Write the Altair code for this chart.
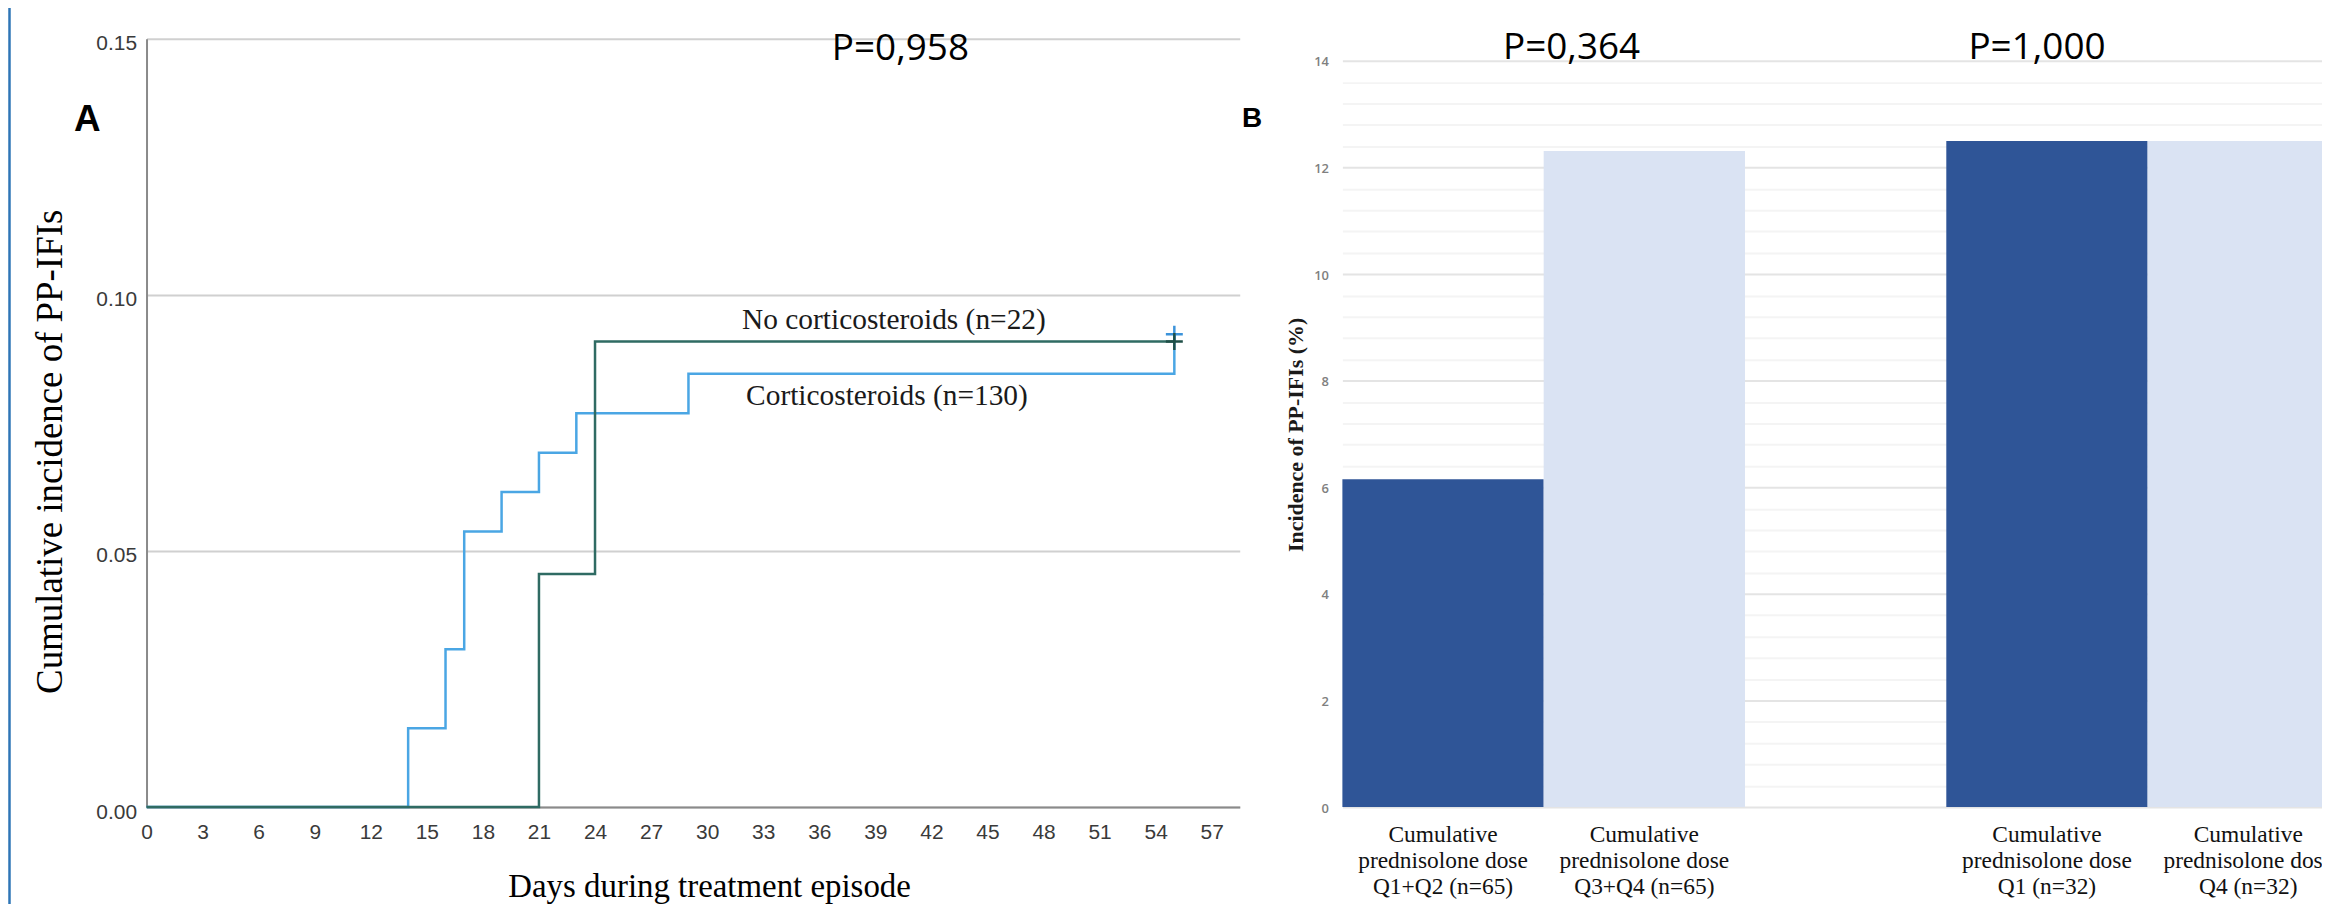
import altair as alt
import pandas as pd

# ---------------- Panel A: cumulative incidence (step curves) ----------------
cs_days = [0, 14, 16, 17, 19, 21, 23, 29, 55]
cs_inc = [0.0, 0.0154, 0.0308, 0.0538, 0.0615, 0.0692, 0.0769, 0.0846, 0.0923]
nocs_days = [0, 21, 24, 55]
nocs_inc = [0.0, 0.0455, 0.0909, 0.0909]
cens_cs_day, cens_cs_inc = [55], [0.0923]
cens_nocs_day, cens_nocs_inc = [55], [0.0909]
x_ticks_a = [0, 3, 6, 9, 12, 15, 18, 21, 24, 27, 30, 33, 36, 39, 42, 45, 48, 51, 54, 57]
y_ticks_a = [0.0, 0.05, 0.10, 0.15]

# ---------------- Panel B: incidence bars ----------------
bar_cats = [
    "Cumulative\nprednisolone dose\nQ1+Q2 (n=65)",
    "Cumulative\nprednisolone dose\nQ3+Q4 (n=65)",
    "Cumulative\nprednisolone dose\nQ1 (n=32)",
    "Cumulative\nprednisolone dose\nQ4 (n=32)",
]
bar_vals = [6.15, 12.31, 12.5, 12.5]
bar_shade = ["low", "high", "low", "high"]
gap_cat = " "
x_domain_b = [bar_cats[0], bar_cats[1], gap_cat, bar_cats[2], bar_cats[3]]
y_ticks_b = [round(0.4 * i, 1) for i in range(36)]
p_texts = ["P=0,958", "P=0,364", "P=1,000"]

BLUE = "#4AA6E4"
GREEN = "#2F6B63"
DARK = "#2F5597"
LIGHT = "#DAE3F3"

W_A, H = 1097, 771
W_B = 1010

xs = alt.Scale(domain=[0, 58.5], nice=False, zero=False)
ys = alt.Scale(domain=[0, 0.15], nice=False)

x_axis_a = alt.Axis(
    values=x_ticks_a, title="Days during treatment episode",
    labelFont="Liberation Sans", labelFontSize=21, labelColor="#3a3a3a",
    labelPadding=14, ticks=False, domain=True, domainColor="#8a8a8a", domainWidth=2,
    grid=False, labelFlush=False,
    titleFont="Liberation Serif", titleFontSize=33, titleFontWeight="normal",
    titleColor="#000000", titleX=564.5, titleY=90, titleAlign="center",
    titleBaseline="alphabetic",
)
y_axis_a = alt.Axis(
    values=y_ticks_a, format=".2f", title="Cumulative incidence of PP-IFIs",
    labelFont="Liberation Sans", labelFontSize=21, labelColor="#3a3a3a",
    labelPadding=10, labelOffset=5, ticks=False, domain=True,
    domainColor="#8a8a8a", domainWidth=2,
    grid=True, gridColor="#d0d0d0", gridWidth=2,
    titleFont="Liberation Serif", titleFontSize=37, titleFontWeight="normal",
    titleColor="#000000", titleX=-96.5, titleY=414, titleAngle=270,
    titleAlign="center", titleBaseline="middle",
)

def enc_a(chart):
    return chart.encode(
        x=alt.X("day:Q", scale=xs, axis=x_axis_a),
        y=alt.Y("inc:Q", scale=ys, axis=y_axis_a),
    )

df_cs = pd.DataFrame({"day": cs_days, "inc": cs_inc})
df_nocs = pd.DataFrame({"day": nocs_days, "inc": nocs_inc})
df_c1 = pd.DataFrame({"day": cens_cs_day, "inc": cens_cs_inc})
df_c2 = pd.DataFrame({"day": cens_nocs_day, "inc": cens_nocs_inc})

line_cs = enc_a(alt.Chart(df_cs).mark_line(interpolate="step-after", color=BLUE, strokeWidth=2.5))
line_nocs = enc_a(alt.Chart(df_nocs).mark_line(interpolate="step-after", color=GREEN, strokeWidth=2.5))
cross = "M-1,0L1,0M0,-1L0,1"
censor_cs = enc_a(alt.Chart(df_c1).mark_point(shape=cross, size=289, filled=False, strokeWidth=2.5, opacity=1, color="#3C93DA"))
censor_nocs = enc_a(alt.Chart(df_c2).mark_point(shape=cross, size=289, filled=False, strokeWidth=2.5, opacity=1, color="#1F4F47"))

def txt(text, x, y, font, size, weight="normal", color="#000000"):
    return alt.Chart(pd.DataFrame({"t": [text]})).mark_text(
        font=font, fontSize=size, fontWeight=weight, color=color,
        align="center", baseline="middle",
    ).encode(x=alt.value(x), y=alt.value(y), text="t:N")

label_nocs = txt("No corticosteroids (n=22)", 750, 282, "Liberation Serif", 29.5, color="#1a1a1a")
label_cs = txt("Corticosteroids (n=130)", 743, 358, "Liberation Serif", 29.5, color="#1a1a1a")
p_a = txt(p_texts[0], 756.5, 10.5, "Open Sans", 37)
letter_a = txt("A", -59.5, 82, "Liberation Sans", 37, weight="bold")
border = alt.Chart(pd.DataFrame({"k": [0]})).mark_rule(color="#2E75B6", strokeWidth=2.5).encode(
    x=alt.value(-137.5), y=alt.value(-40), y2=alt.value(900)
)

panel_a = alt.layer(
    line_cs, line_nocs, censor_cs, censor_nocs, label_nocs, label_cs, p_a, letter_a, border
).properties(width=W_A, height=H)

# ---------------- Panel B ----------------
bxs = alt.Scale(domain=x_domain_b, paddingInner=0, paddingOuter=0)
bys = alt.Scale(domain=[0, 14.417], nice=False)

x_axis_b = alt.Axis(
    title=None, labelExpr="split(datum.label, '\\n')",
    labelFont="Liberation Serif", labelFontSize=23.5, labelColor="#111111",
    labelLineHeight=26, labelPadding=16, labelAngle=0, ticks=False,
    domain=False, labelLimit=0, grid=False,
)
y_axis_b = alt.Axis(
    values=y_ticks_b,
    labelExpr="datum.value % 2 === 0 ? format(datum.value, 'd') : ''",
    labelFont="Open Sans", labelFontSize=13, labelFontWeight=600,
    labelColor="#808080", labelPadding=14, labelOffset=1,
    ticks=False, domain=False, grid=True, gridWidth=2,
    gridColor={"condition": {"test": "datum.value % 2 === 0", "value": "#e4e4e4"}, "value": "#f4f4f4"},
    title="Incidence of PP-IFIs (%)", titleFont="Liberation Serif", titleFontSize=22,
    titleFontWeight="bold", titleColor="#1a1a1a", titleX=-47, titleY=397,
    titleAngle=270, titleAlign="center", titleBaseline="middle",
)

df_b = pd.DataFrame({"group": bar_cats, "inc": bar_vals, "shade": bar_shade})
bars = alt.Chart(df_b).mark_bar().encode(
    x=alt.X("group:N", scale=bxs, axis=x_axis_b),
    y=alt.Y("inc:Q", scale=bys, axis=y_axis_b),
    color=alt.Color("shade:N", scale=alt.Scale(domain=["low", "high"], range=[DARK, LIGHT]), legend=None),
)
p_b1 = txt(p_texts[1], 230, 9, "Open Sans", 37)
p_b2 = txt(p_texts[2], 697, 9, "Open Sans", 37)
letter_b = txt("B", -90.5, 81, "Liberation Sans", 28, weight="bold")

panel_b = alt.layer(bars, p_b1, p_b2, letter_b).properties(width=W_B, height=H)

chart = alt.hconcat(panel_a, panel_b, spacing=103, bounds="flush").resolve_scale(
    color="independent"
).properties(
    autosize=alt.AutoSizeParams(type="none"),
    padding={"left": 139, "top": 28, "right": 2183, "bottom": 868},
    background="white",
).configure_view(stroke="transparent", strokeWidth=0)

chart.save("out.html", embed_options={"renderer": "svg", "actions": False})
